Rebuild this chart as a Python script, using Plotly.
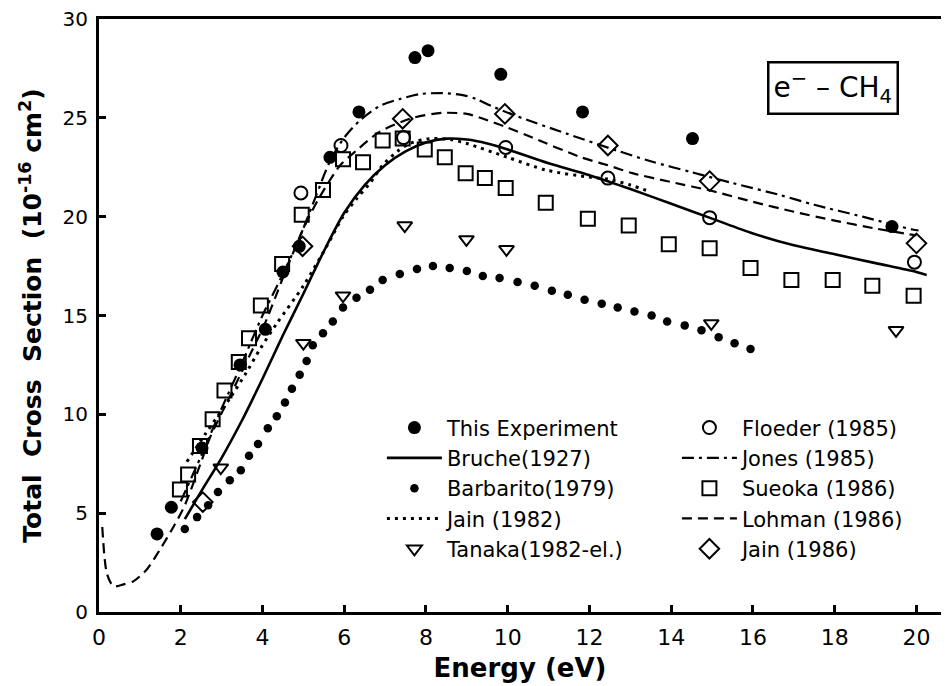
import plotly.graph_objects as go

# ---------------- data ----------------
exp_x = [1.42, 1.77, 2.52, 3.45, 4.07, 4.5, 4.9, 5.65, 6.36, 7.73, 8.05, 9.83, 11.83, 14.52, 19.4]
exp_y = [3.95, 5.3, 8.3, 12.5, 14.3, 17.2, 18.5, 23.0, 25.3, 28.05, 28.4, 27.2, 25.3, 23.95, 19.5]

floeder_x = [4.94, 5.92, 7.45, 9.95, 12.45, 14.94, 19.95]
floeder_y = [21.2, 23.6, 24.0, 23.5, 21.95, 19.95, 17.7]

sueoka_x = [1.98, 2.18, 2.47, 2.78, 3.07, 3.42, 3.67, 3.96, 4.48, 4.96, 5.48, 5.97, 6.46, 6.94, 7.43,
            7.97, 8.46, 8.97, 9.44, 9.95, 10.93, 11.96, 12.96, 13.94, 14.94, 15.94, 16.94, 17.95, 18.92, 19.93]
sueoka_y = [6.2, 6.95, 8.4, 9.75, 11.2, 12.65, 13.85, 15.5, 17.6, 20.1, 21.35, 22.9, 22.75, 23.85, 23.95,
            23.4, 23.0, 22.2, 21.95, 21.45, 20.7, 19.9, 19.55, 18.6, 18.4, 17.4, 16.8, 16.8, 16.5, 16.0]

tanaka_x = [2.98, 5.0, 5.97, 7.48, 8.99, 9.97, 14.98, 19.5]
tanaka_y = [7.3, 13.6, 16.0, 19.55, 18.85, 18.35, 14.6, 14.25]

jain86_x = [2.54, 4.98, 7.43, 9.93, 12.45, 14.94, 20.0]
jain86_y = [5.56, 18.5, 24.95, 25.2, 23.6, 21.8, 18.65]

bruche_x = [2.1, 2.5, 3.0, 3.5, 4.0, 4.5, 5.0, 5.5, 6.0, 6.5, 7.0, 7.5, 8.0, 8.5, 9.0, 9.5, 10.0,
            11.0, 12.0, 13.0, 14.0, 15.0, 16.0, 17.0, 18.0, 19.0, 20.0, 20.25]
bruche_y = [4.7, 6.1, 7.8, 9.7, 11.8, 14.0, 16.1, 18.25, 20.2, 21.6, 22.6, 23.3, 23.75, 23.95, 23.9, 23.7, 23.4,
            22.7, 22.1, 21.4, 20.65, 19.9, 19.15, 18.55, 18.1, 17.65, 17.2, 17.05]

barbarito_x = [2.1, 2.4, 2.67, 2.91, 3.2, 3.47, 3.67, 3.89, 4.13, 4.35, 4.55, 4.72, 4.91, 5.08, 5.23, 5.48,
               5.72, 5.97, 6.3, 6.63, 6.94, 7.36, 7.78, 8.17, 8.58, 9.0, 9.39, 9.8, 10.24, 10.66, 11.08,
               11.47, 11.88, 12.3, 12.69, 13.1, 13.52, 13.9, 14.33, 14.74, 15.16, 15.55, 15.94]
barbarito_y = [4.2, 4.8, 5.4, 6.07, 6.67, 7.17, 7.9, 8.5, 9.3, 9.9, 10.6, 11.3, 12.0, 12.7, 13.5, 14.1,
               14.7, 15.4, 15.9, 16.3, 16.8, 17.1, 17.35, 17.5, 17.4, 17.25, 17.0, 16.9, 16.7, 16.5, 16.25,
               16.05, 15.8, 15.6, 15.4, 15.2, 15.0, 14.7, 14.5, 14.25, 13.9, 13.6, 13.3]

jain82_x = [2.15, 2.6, 3.2, 3.6, 3.94, 4.35, 5.0, 5.57, 5.97, 6.3, 6.63, 6.94, 7.3, 7.6, 8.1, 8.6, 9.0,
            10.0, 10.95, 12.0, 12.45, 13.0, 13.5]
jain82_y = [7.6, 9.0, 10.8, 12.1, 13.3, 14.6, 16.5, 18.5, 20.0, 20.9, 21.7, 22.6, 23.3, 23.7, 23.95, 23.9, 23.7,
            23.0, 22.35, 22.0, 21.9, 21.6, 21.25]

jones_x = [2.0, 2.5, 3.0, 3.5, 4.0, 4.5, 4.9, 5.3, 5.65, 6.0, 6.4, 6.87, 7.36, 7.85, 8.4, 8.9, 9.23, 9.6,
           10.2, 11.44, 12.66, 13.5, 14.5, 15.5, 16.65, 17.5, 18.68, 19.9, 20.05]
jones_y = [5.6, 7.9, 10.3, 12.6, 15.0, 17.1, 18.9, 21.0, 22.8, 24.0, 24.9, 25.6, 25.95, 26.2, 26.25, 26.15,
           25.95, 25.6, 25.1, 24.2, 23.35, 22.8, 22.25, 21.7, 21.1, 20.6, 20.0, 19.35, 19.3]

lohman_x = [0.08, 0.19, 0.35, 0.6, 0.84, 1.17, 1.49, 1.82, 2.1, 2.5, 2.71, 3.2, 3.62, 4.06, 4.5, 5.0, 5.4,
            5.9, 6.3, 6.87, 7.68, 8.4, 9.0, 9.4, 10.0, 10.6, 11.8, 12.45, 13.05, 14.0, 15.0, 16.0, 17.0,
            18.0, 19.0, 20.0]
lohman_y = [4.3, 1.97, 1.3, 1.4, 1.55, 2.15, 3.15, 4.3, 5.4, 7.6, 8.8, 10.9, 12.7, 14.6, 16.9, 19.4, 21.0,
            22.6, 23.35, 24.3, 25.0, 25.25, 25.2, 24.95, 24.5, 24.0, 23.0, 22.6, 22.2, 21.75, 21.3, 20.75,
            20.25, 19.8, 19.4, 19.05]

x_ticks = [0, 2, 4, 6, 8, 10, 12, 14, 16, 18, 20]
y_ticks = [0, 5, 10, 15, 20, 25, 30]

FONT = "DejaVu Sans"
BLACK = "black"
COL1_W = 225   # legend entry width, left column
COL2_W = 180   # legend entry width, right column

fig = go.Figure()

# ---- curves ----
fig.add_trace(go.Scatter(x=bruche_x, y=bruche_y, mode="lines", name="Bruche(1927)", legendrank=3,
                         legendwidth=COL1_W,
                         line=dict(color=BLACK, width=2.6, shape="spline", smoothing=0.8)))
fig.add_trace(go.Scatter(x=jain82_x, y=jain82_y, mode="lines", name="Jain (1982)", legendrank=7,
                         legendwidth=COL1_W,
                         line=dict(color=BLACK, width=3, dash="3px,5px", shape="spline", smoothing=0.8)))
fig.add_trace(go.Scatter(x=jones_x, y=jones_y, mode="lines", name="Jones (1985)", legendrank=4,
                         legendwidth=COL2_W,
                         line=dict(color=BLACK, width=2.2, dash="12px,5px,3px,5px", shape="spline",
                                   smoothing=0.8)))
fig.add_trace(go.Scatter(x=lohman_x, y=lohman_y, mode="lines", name="Lohman (1986)", legendrank=8,
                         legendwidth=COL2_W,
                         line=dict(color=BLACK, width=2.2, dash="10px,6px", shape="spline", smoothing=0.7)))
fig.add_trace(go.Scatter(x=barbarito_x, y=barbarito_y, mode="markers", name="Barbarito(1979)", legendrank=5,
                         legendwidth=COL1_W,
                         marker=dict(symbol="circle", size=8.5, color=BLACK)))

# ---- markers ----
fig.add_trace(go.Scatter(x=exp_x, y=exp_y, mode="markers", name="This Experiment", legendrank=1,
                         legendwidth=COL1_W,
                         marker=dict(symbol="circle", size=13, color=BLACK)))
fig.add_trace(go.Scatter(x=floeder_x, y=floeder_y, mode="markers", name="Floeder (1985)", legendrank=2,
                         legendwidth=COL2_W,
                         marker=dict(symbol="circle-open", size=13, color=BLACK, line=dict(width=2))))
fig.add_trace(go.Scatter(x=sueoka_x, y=sueoka_y, mode="markers", name="Sueoka (1986)", legendrank=6,
                         legendwidth=COL2_W,
                         marker=dict(symbol="square-open", size=14, color=BLACK, line=dict(width=2))))
fig.add_trace(go.Scatter(x=tanaka_x, y=tanaka_y, mode="markers", name="Tanaka(1982-el.)", legendrank=9,
                         legendwidth=COL1_W,
                         marker=dict(symbol="triangle-down-open", size=13, color=BLACK, line=dict(width=2))))
fig.add_trace(go.Scatter(x=jain86_x, y=jain86_y, mode="markers", name="Jain (1986)", legendrank=10,
                         legendwidth=COL2_W,
                         marker=dict(symbol="diamond-open", size=15, color=BLACK, line=dict(width=2))))

fig.add_annotation(x=17.95, y=26.5, xref="x", yref="y", showarrow=False,
                   text="e<sup>−</sup> – CH<sub>4</sub>",
                   font=dict(family=FONT, size=28, color=BLACK),
                   bordercolor=BLACK, borderwidth=2.5, borderpad=4, bgcolor="white")

fig.update_layout(
    width=948, height=686,
    margin=dict(l=99, r=7, t=17, b=70),
    plot_bgcolor="white", paper_bgcolor="white",
    font=dict(family=FONT, color=BLACK),
    showlegend=True,
    legend=dict(orientation="h", x=0.336, y=0.345, xanchor="left", yanchor="top",
                entrywidthmode="pixels", itemwidth=55,
                font=dict(family=FONT, size=21, color=BLACK),
                bgcolor="rgba(0,0,0,0)", borderwidth=0),
)

fig.update_xaxes(range=[0, 20.6], tickvals=x_ticks, ticktext=[str(v) for v in x_ticks],
                 ticks="inside", ticklen=7, tickwidth=2.5, tickcolor=BLACK,
                 showline=True, linewidth=3, linecolor=BLACK, mirror=True,
                 showgrid=False, zeroline=False,
                 tickfont=dict(family=FONT, size=22, color=BLACK), ticklabelstandoff=4,
                 title=dict(text="<b>Energy (eV)</b>", font=dict(family=FONT, size=26, color=BLACK),
                            standoff=10))
fig.update_yaxes(range=[0, 30], tickvals=y_ticks, ticktext=[str(v) for v in y_ticks],
                 ticks="inside", ticklen=7, tickwidth=2.5, tickcolor=BLACK,
                 showline=True, linewidth=3, linecolor=BLACK, mirror=False,
                 showgrid=False, zeroline=False,
                 tickfont=dict(family=FONT, size=20, color=BLACK), ticklabelstandoff=4,
                 title=dict(text="<b>Total  Cross  Section  (10<sup>-16</sup> cm<sup>2</sup>)</b>",
                            font=dict(family=FONT, size=25, color=BLACK), standoff=14))

fig.write_html("out.html")
